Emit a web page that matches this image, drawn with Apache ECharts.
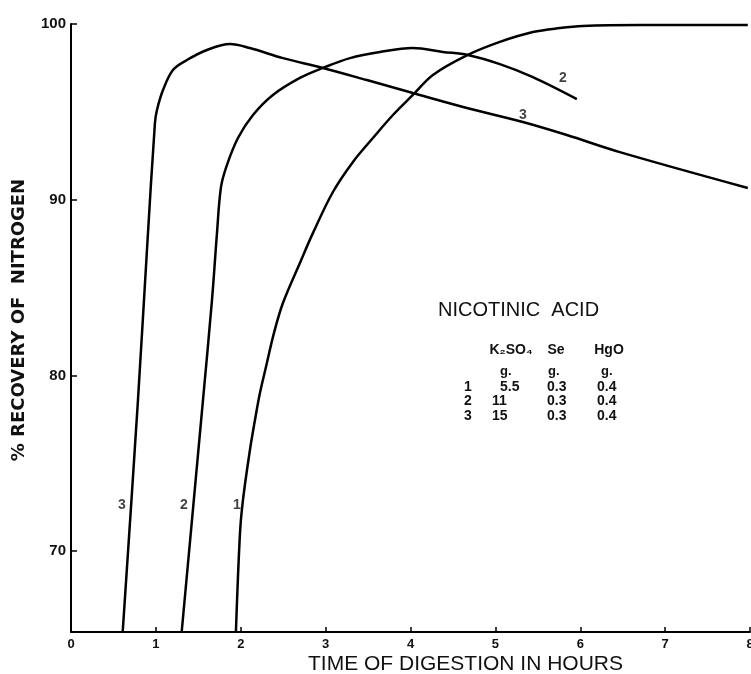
<!DOCTYPE html>
<html>
<head>
<meta charset="utf-8">
<script src="https://cdn.jsdelivr.net/npm/echarts@6/dist/echarts.min.js"></script>
<style>
html,body{margin:0;padding:0;background:#fff;}
#chart{width:751px;height:674px;}
</style>
</head>
<body>
<div id="chart"></div>
<script>
// ---- data (hours, % recovery) ----
var curve1 = [[1.943,65.40],[1.991,71.03],[2.026,72.91],[2.108,75.75],[2.167,77.45],[2.226,79.00],[2.297,80.48],[2.391,82.41],[2.497,84.12],[2.697,86.40],[2.850,88.10],[3.086,90.44],[3.322,92.15],[3.557,93.51],[3.793,94.82],[4.028,95.96],[4.264,97.10],[4.676,98.24],[5.053,98.98],[5.442,99.54],[5.760,99.77],[6.031,99.89],[6.702,99.94],[7.974,99.94]];
var curve2 = [[1.304,65.40],[1.555,78.60],[1.661,84.29],[1.720,88.10],[1.767,90.72],[1.837,91.97],[1.967,93.51],[2.144,94.82],[2.379,95.96],[2.697,96.93],[2.968,97.50],[3.286,98.06],[3.640,98.41],[4.028,98.63],[4.382,98.41],[4.676,98.24],[5.053,97.72],[5.442,96.98],[5.960,95.73]];
var curve3 = [[0.609,65.40],[0.789,78.60],[0.895,87.14],[0.989,94.37],[1.013,95.11],[1.084,96.24],[1.201,97.38],[1.366,97.95],[1.602,98.52],[1.873,98.86],[2.108,98.63],[2.497,98.06],[2.968,97.50],[3.486,96.81],[4.028,96.07],[4.664,95.22],[5.324,94.42],[5.842,93.68],[6.466,92.71],[7.974,90.67]];
var curveLabels = [[0.60,72.62,'3'],[1.33,72.62,'2'],[1.955,72.62,'1'],[6.243,100.4,'1'],[5.795,96.93,'2'],[5.324,94.82,'3']];
var xTicks = [0,1,2,3,4,5,6,7,8];
var yTicks = [70,80,90,100];
var tableTitle = 'NICOTINIC  ACID';
var tableHeader = ['K\u2082SO\u2084','Se','HgO'];
var tableUnits = ['g.','g.','g.'];
var tableRows = [['1','5.5','0.3','0.4'],['2','11','0.3','0.4'],['3','15','0.3','0.4']];

var chart = echarts.init(document.getElementById('chart'));
var FONT = '"Liberation Sans", Arial, sans-serif';
var lineSeries = function(d){
  return {type:'line', data:d, showSymbol:false, symbol:'none', smooth:0.35,
    lineStyle:{color:'#000', width:2.5}, silent:true, z:3, clip:false};
};

var g = [];
g.push({type:'text', left:438, top:300, style:{text:tableTitle, font:'20px '+FONT, fill:'#111'}});
var colX = [468, 511, 556, 609];
for (var h=0; h<3; h++){
  g.push({type:'text', x:colX[h+1], y:350, style:{text:tableHeader[h], font:'bold 14px '+FONT, fill:'#111', align:'center', verticalAlign:'middle'}});
}
for (var i=0;i<3;i++){
  g.push({type:'text', x:colX[i+1]-8+(i==0?-3:0), y:371, style:{text:tableUnits[i], font:'bold 13px '+FONT, fill:'#111', align:'left', verticalAlign:'middle'}});
}
var rowY = [387, 401, 416];
tableRows.forEach(function(r, ri){
  g.push({type:'text', x:colX[0], y:rowY[ri], style:{text:r[0], font:'bold 14px '+FONT, fill:'#111', align:'center', verticalAlign:'middle'}});
  g.push({type:'text', x:(ri==0?500:492), y:rowY[ri], style:{text:r[1], font:'bold 14px '+FONT, fill:'#111', align:'left', verticalAlign:'middle'}});
  g.push({type:'text', x:547, y:rowY[ri], style:{text:r[2], font:'bold 14px '+FONT, fill:'#111', align:'left', verticalAlign:'middle'}});
  g.push({type:'text', x:597, y:rowY[ri], style:{text:r[3], font:'bold 14px '+FONT, fill:'#111', align:'left', verticalAlign:'middle'}});
});

chart.setOption({
  backgroundColor:'#fff',
  animation:false,
  grid:{left:71, right:1, top:24, bottom:42, containLabel:false, outerBoundsMode:'none'},
  xAxis:{
    type:'value', min:0, max:8, interval:1,
    name:'TIME OF DIGESTION IN HOURS', nameLocation:'middle', nameGap:22, nameMoveOverlap:false,
    nameTextStyle:{fontFamily:FONT, fontSize:21, color:'#111', padding:[0,0,0,110]},
    axisLine:{show:true, onZero:false, lineStyle:{color:'#000', width:2}},
    axisTick:{show:true, inside:true, length:5, lineStyle:{color:'#000', width:1.5}},
    axisLabel:{fontFamily:FONT, fontWeight:'bold', fontSize:13, color:'#111', margin:6, showMaxLabel:true, showMinLabel:true},
    splitLine:{show:false}
  },
  yAxis:{
    type:'value', min:65.4, max:100,
    name:'% RECOVERY OF  NITROGEN', nameLocation:'middle', nameGap:43, nameRotate:90,
    nameTextStyle:{fontFamily:'"DejaVu Sans", sans-serif', fontWeight:'bold', fontSize:18, color:'#111', padding:[0,0,0,16]},
    axisLine:{show:true, lineStyle:{color:'#000', width:2}},
    axisTick:{show:true, inside:true, length:6, customValues:yTicks, lineStyle:{color:'#000', width:1.5}},
    axisLabel:{fontFamily:FONT, fontWeight:'bold', fontSize:15, color:'#111', margin:5, customValues:yTicks},
    splitLine:{show:false}
  },
  series:[
    lineSeries(curve1), lineSeries(curve2), lineSeries(curve3),
    {type:'scatter', data:curveLabels, symbolSize:0, silent:true,
      label:{show:true, position:'inside', formatter:function(p){return p.value[2];},
        fontFamily:FONT, fontWeight:'bold', fontSize:14, color:'#111'}}
  ],
  graphic:g
});
</script>
</body>
</html>
